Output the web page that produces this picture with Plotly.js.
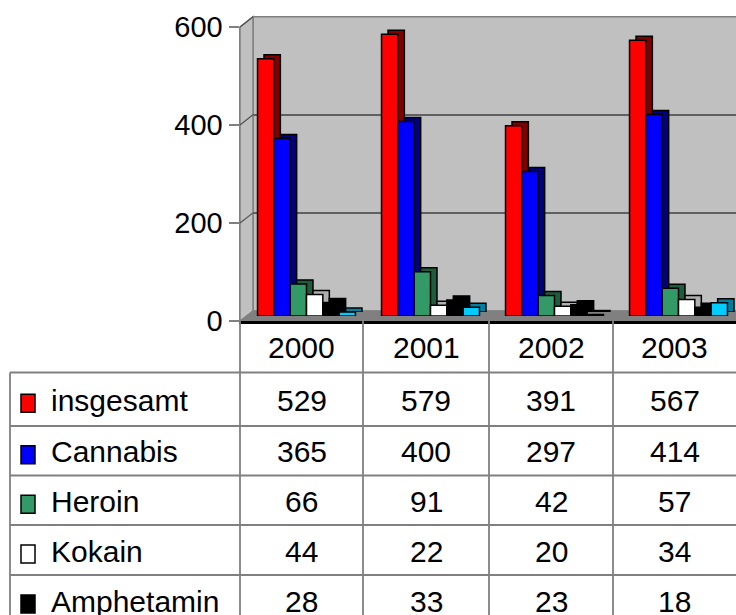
<!DOCTYPE html>
<html>
<head>
<meta charset="utf-8">
<script src="https://cdn.plot.ly/plotly-3.0.1.min.js"></script>
<style>html,body{margin:0;padding:0;background:#fff;}#chart{width:736px;height:615px;}</style>
</head>
<body>
<div id="chart"></div>
<script>
// ---- data ----
var years = ['2000', '2001', '2002', '2003'];
var seriesNames = ['insgesamt', 'Cannabis', 'Heroin', 'Kokain', 'Amphetamin', 'Ecstasy'];
var insgesamt  = [529, 579, 391, 567];
var cannabis   = [365, 400, 297, 414];
var heroin     = [66, 91, 42, 57];
var kokain     = [44, 22, 20, 34];
var amphetamin = [28, 33, 23, 18];
var ecstasy    = [8, 18, 3, 27];
var yTicks = [0, 200, 400, 600];
var visibleTableRows = 5; // the sixth row lies below the picture's edge

// ---- styles ----
var frontColors = ['#ff0000', '#0000ff', '#339966', '#ffffff', '#000000', '#00ccff'];
var sideColors  = ['#800000', '#000080', '#1e5c3c', '#b0b0b0', '#000000', '#007f9f'];
var FONT = 'Liberation Sans, Arial, sans-serif';
var W = 736, H = 615;
function px(x) { return x / W; }
function py(y) { return (H - y) / H; }

var allSeries = [insgesamt, cannabis, heroin, kokain, amphetamin, ecstasy];

var traces = [];
traces.push({type: 'scatter', x: [], y: [], xaxis: 'x', yaxis: 'y', hoverinfo: 'skip', showlegend: false});
// depth faces (behind)
allSeries.forEach(function (vals, i) {
  traces.push({
    type: 'bar', name: seriesNames[i], x: years, y: vals,
    xaxis: 'x2', yaxis: 'y2',
    marker: {color: sideColors[i], line: {color: '#000', width: 1.5}},
    hoverinfo: 'skip', showlegend: false
  });
});
// front faces
allSeries.forEach(function (vals, i) {
  traces.push({
    type: 'bar', name: seriesNames[i], x: years, y: vals,
    xaxis: 'x3', yaxis: 'y3',
    marker: {color: frontColors[i], line: {color: '#000', width: 1.5}},
    showlegend: false
  });
});
traces.push({type: 'scatter', x: [], y: [], xaxis: 'x4', yaxis: 'y4', hoverinfo: 'skip', showlegend: false});

var catW = 124;
var shift = 4.5 / catW;
var depthX = 6.5 / catW;
var barScale = 0.4865;

function hiddenAxis(extra) {
  var a = {showgrid: false, zeroline: false, showticklabels: false, ticks: '', showline: false, fixedrange: true};
  for (var k in extra) a[k] = extra[k];
  return a;
}

var shapes = [];
shapes.push({type: 'rect', xref: 'paper', yref: 'paper', layer: 'below',
  x0: px(253), x1: px(737), y0: py(311), y1: py(16.7),
  fillcolor: '#c0c0c0', line: {color: '#808080', width: 1.5}});
shapes.push({type: 'path', xref: 'paper', yref: 'paper', layer: 'below',
  path: 'M' + px(240) + ',' + py(321) + ' L' + px(240) + ',' + py(27) + ' L' + px(253) + ',' + py(16.7) + ' L' + px(253) + ',' + py(311) + ' Z',
  fillcolor: '#c0c0c0', line: {color: '#808080', width: 1.5}});
shapes.push({type: 'path', xref: 'paper', yref: 'paper', layer: 'below',
  path: 'M' + px(240) + ',' + py(321) + ' L' + px(253) + ',' + py(311) + ' L' + px(737) + ',' + py(311) + ' L' + px(737) + ',' + py(321) + ' Z',
  fillcolor: '#808080', line: {color: '#808080', width: 1}});
yTicks.forEach(function (v) {
  if (v === 0) return;
  shapes.push({type: 'line', xref: 'paper', yref: 'paper', layer: 'below',
    x0: px(240), y0: py(321 - v * 0.49), x1: px(253), y1: py(311 - v * 0.4905),
    line: {color: '#505050', width: 1.2}});
});

// table geometry
var colEdges = [240, 363, 489, 613, 736];
var rowLines = [372.5, 426, 475.5, 525, 575, 625];
var lineCol = '#808080';
colEdges.slice(0, 4).forEach(function (x) {
  shapes.push({type: 'line', xref: 'paper', yref: 'paper', x0: px(x), x1: px(x), y0: py(321), y1: py(640),
    line: {color: lineCol, width: 1.8}});
});
shapes.push({type: 'line', xref: 'paper', yref: 'paper', x0: px(10), x1: px(10), y0: py(372.5), y1: py(640),
  line: {color: lineCol, width: 1.8}});
rowLines.slice(0, 5).forEach(function (y) {
  shapes.push({type: 'line', xref: 'paper', yref: 'paper', x0: px(10), x1: px(740), y0: py(y), y1: py(y),
    line: {color: lineCol, width: 1.8}});
});

var annotations = [];
years.forEach(function (yr, j) {
  annotations.push({xref: 'paper', yref: 'paper', x: px((colEdges[j] + colEdges[j + 1]) / 2), y: py(347),
    text: yr, showarrow: false, xanchor: 'center', yanchor: 'middle',
    font: {family: FONT, size: 30, color: '#000'}});
});
allSeries.slice(0, visibleTableRows).forEach(function (vals, i) {
  var yc = (rowLines[i] + rowLines[i + 1]) / 2 + 1;
  shapes.push({type: 'rect', xref: 'paper', yref: 'paper', x0: px(21), x1: px(35),
    y0: py(yc - 6), y1: py(yc + 12), fillcolor: frontColors[i], line: {color: '#000', width: 1.5}});
  annotations.push({xref: 'paper', yref: 'paper', x: px(49), y: py(yc), text: seriesNames[i],
    showarrow: false, xanchor: 'left', yanchor: 'middle', font: {family: FONT, size: 30, color: '#000'}});
  vals.forEach(function (v, j) {
    annotations.push({xref: 'paper', yref: 'paper', x: px((colEdges[j] + colEdges[j + 1]) / 2), y: py(yc),
      text: String(v), showarrow: false, xanchor: 'center', yanchor: 'middle',
      font: {family: FONT, size: 30, color: '#000'}});
  });
});

var layout = {
  width: W, height: H,
  margin: {l: 0, r: 0, t: 0, b: 0, pad: 0},
  paper_bgcolor: '#ffffff', plot_bgcolor: 'rgba(0,0,0,0)',
  showlegend: false,
  barmode: 'group', bargap: 0.21, bargroupgap: 0,
  font: {family: FONT, color: '#000'},
  xaxis: hiddenAxis({domain: [px(253), 1], range: [0, 1], anchor: 'y'}),
  yaxis: hiddenAxis({domain: [py(311), py(16.7)], range: [0, 600], anchor: 'x',
    showgrid: true, tickvals: [200, 400], gridcolor: '#606060', gridwidth: 1.5}),
  xaxis2: hiddenAxis({type: 'category', domain: [px(240), 1], range: [-0.5 - shift - depthX, 3.5 - shift - depthX], anchor: 'y2'}),
  yaxis2: hiddenAxis({domain: [py(312), py(312 - barScale * 600)], range: [0, 600], anchor: 'x2'}),
  xaxis3: hiddenAxis({type: 'category', domain: [px(240), 1], range: [-0.5 - shift, 3.5 - shift], anchor: 'y3'}),
  yaxis3: hiddenAxis({domain: [py(316), py(316 - barScale * 600)], range: [0, 600], anchor: 'x3'}),
  xaxis4: hiddenAxis({domain: [px(240), 1], range: [0, 1], anchor: 'y4', showline: true, linecolor: '#000', linewidth: 2.5}),
  yaxis4: {domain: [py(321), py(27)], range: [0, 600], anchor: 'x4', tickvals: yTicks,
    ticks: 'outside', ticklen: 10, tickwidth: 1.5, tickcolor: '#808080',
    showline: true, linecolor: '#808080', linewidth: 1.5, showgrid: false, zeroline: false,
    tickfont: {family: FONT, size: 29, color: '#000'}, fixedrange: true},
  shapes: shapes,
  annotations: annotations
};

Plotly.newPlot('chart', traces, layout, {staticPlot: true, displayModeBar: false});
</script>
</body>
</html>
